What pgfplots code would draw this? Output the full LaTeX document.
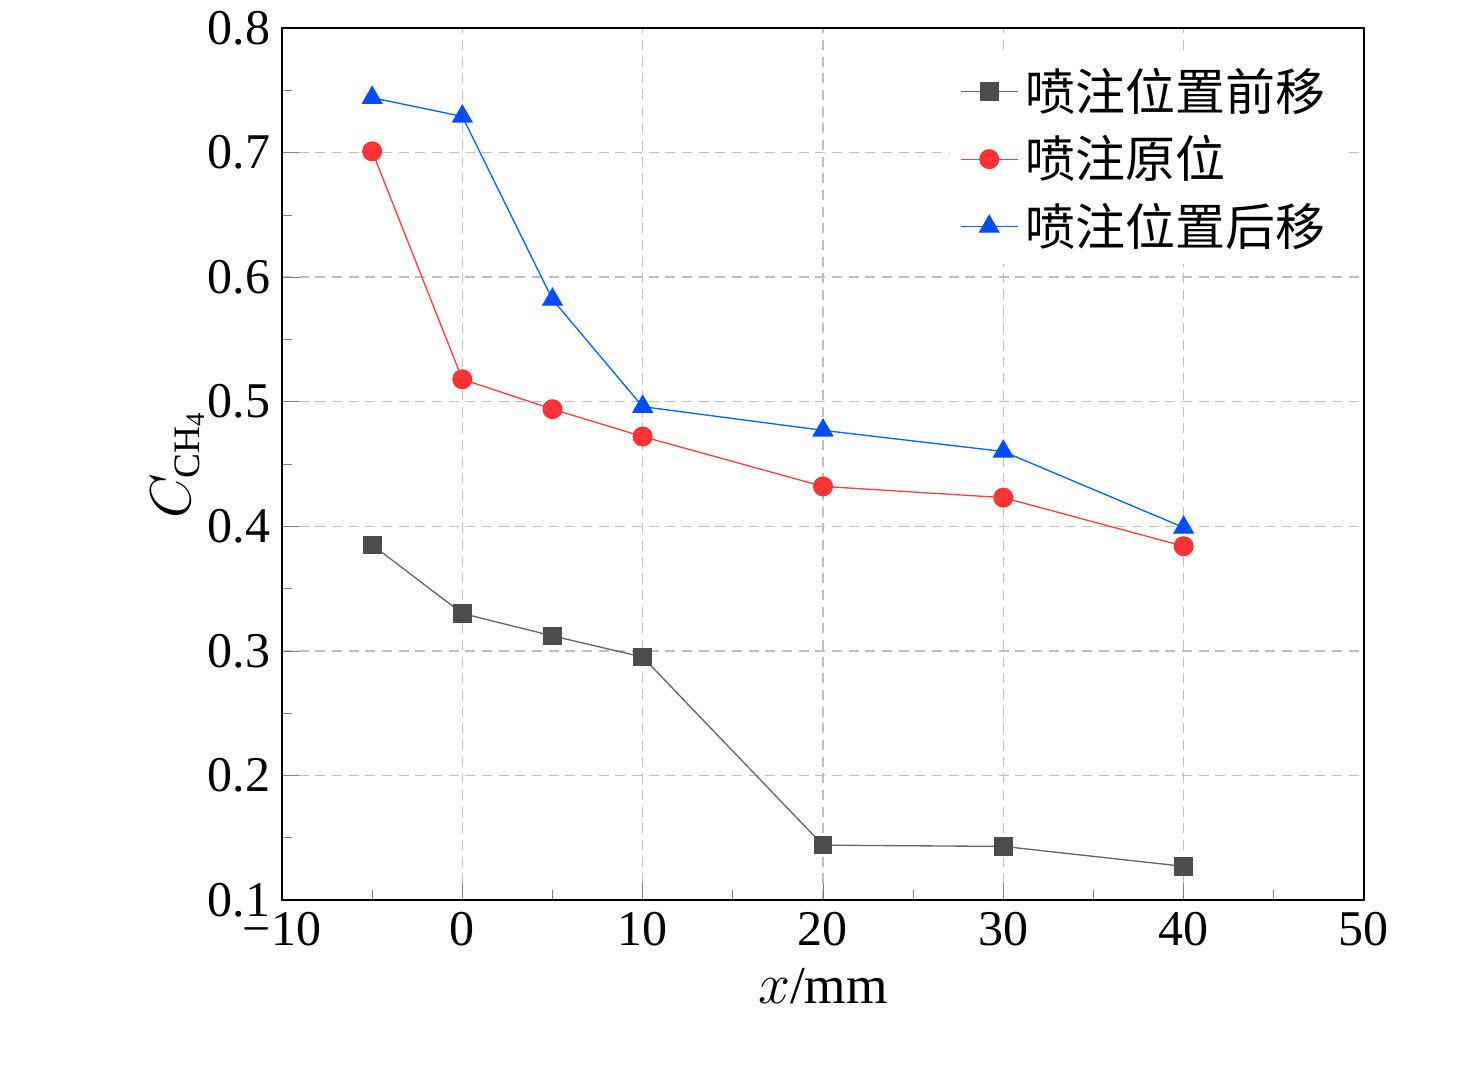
\documentclass[border=0pt]{standalone}
\usepackage{pgfplots}
\pgfplotsset{compat=1.18}
\usepackage{fontspec}
\setmainfont{Liberation Serif}
\newfontfamily\cjk{Noto Sans CJK SC}
\begin{document}
\begin{tikzpicture}
\begin{axis}[
  scale only axis, width=324.6pt, height=261.6pt,
  xmin=-10, xmax=50, ymin=0.1, ymax=0.8,
  xtick={-10,0,10,20,30,40,50}, ytick={0.1,0.2,0.3,0.4,0.5,0.6,0.7,0.8},
  xticklabels={−10,0,10,20,30,40,50},
  minor x tick num=1, minor y tick num=1,
  yticklabel style={/pgf/number format/fixed,/pgf/number format/fixed zerofill,/pgf/number format/precision=1},
  /pgf/number format/assume math mode=true,
  tick label style={font=\fontsize{15}{15}\selectfont},
  tick align=inside, xtick pos=bottom, ytick pos=left,
  major tick length=5pt, minor tick length=3pt,
  grid=major, major grid style={densely dashed, gray!50},
  axis line style={line width=0.8pt},
  xlabel={$x$/mm}, ylabel={$C_{\mathrm{CH_4}}$},
  label style={font=\fontsize{16}{16}\selectfont},
  ylabel style={yshift=-6pt},
  legend style={draw=none, fill=white, at={(0.98,0.97)}, anchor=north east, font=\cjk\fontsize{15}{18}\selectfont, row sep=2pt},
  legend cell align=left,
]
\coordinate (sw) at (rel axis cs:0,0);
\coordinate (ne) at (rel axis cs:1,1);
\addplot[color=gray!80!black, mark=square*, mark size=2.6pt, mark options={fill=black!70, draw=black!70}] coordinates {(-5,0.385)(0,0.330)(5,0.312)(10,0.295)(20,0.144)(30,0.143)(40,0.127)};
\addlegendentry{喷注位置前移}
\addplot[color=red!75, mark=*, mark size=2.8pt, mark options={fill=red!80!white, draw=red!80!white}] coordinates {(-5,0.701)(0,0.518)(5,0.494)(10,0.472)(20,0.432)(30,0.423)(40,0.384)};
\addlegendentry{喷注原位}
\addplot[color=blue!60!cyan, mark=triangle*, mark size=3.3pt, mark options={fill=blue!70!cyan, draw=blue!70!cyan}] coordinates {(-5,0.744)(0,0.729)(5,0.582)(10,0.496)(20,0.477)(30,0.460)(40,0.399)};
\addlegendentry{喷注位置后移}
\end{axis}
\pgfresetboundingbox
\path ([xshift=-84.6pt,yshift=-51.3pt]sw) rectangle ([xshift=33.6pt,yshift=8.4pt]ne);
\end{tikzpicture}
\end{document}
